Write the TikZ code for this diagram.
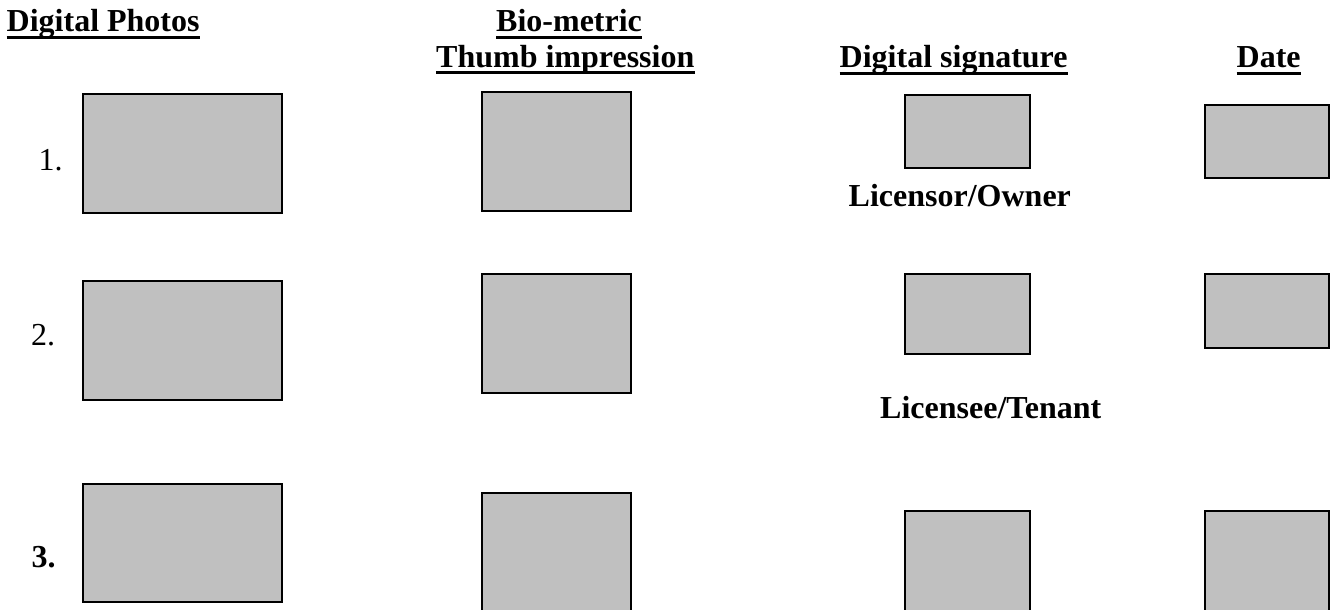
\documentclass[tikz,border=0pt]{standalone}
\usepackage{fontspec}
\setmainfont{Liberation Serif}
\usepackage{tikz}
\usetikzlibrary{positioning}

\definecolor{padgray}{RGB}{192,192,192}
\tikzset{
  pad/.style={draw=black,fill=padgray,line width=2pt,inner sep=0pt,anchor=north west},
  heading/.style={font=\fontsize{32}{36}\selectfont\bfseries,inner sep=0pt,anchor=base west},
  caption/.style={font=\fontsize{32}{36}\selectfont\bfseries,inner sep=0pt,anchor=base west},
  rownum/.style={font=\fontsize{32}{36}\selectfont,inner sep=0pt,anchor=base west},
  uline/.style={line width=3.5pt}
}

\begin{document}
\begin{tikzpicture}[x=1pt,y=-1pt]
\useasboundingbox (0,0) rectangle (1331,610);
\clip (0,0) rectangle (1331,610);

% column headings
\node[heading] (hphoto) at (6.5,32) {Digital Photos};
\node[heading] (hbio) at (496,32) {Bio-metric};
\node[heading] (hthumb) at (436,67) {Thumb impression};
\node[heading] (hsign) at (839.5,68) {Digital signature\hspace{0.25em}};
\node[heading] (hdate) at (1236.5,68) {Date};
\foreach \h in {hphoto,hbio,hthumb,hsign,hdate}
  \draw[uline] ([yshift=-5.5pt]\h.base west) -- ([yshift=-5.5pt]\h.base east);

% row numbers
\node[rownum] (n1) at (38.5,170) {1.};
\node[rownum] (n2) at (31,345) {2.};
\node[rownum,font=\fontsize{32}{36}\selectfont\bfseries] (n3) at (31.5,567) {3.};

% photo boxes
\node[pad,minimum width=199pt,minimum height=119pt] (photo1) at (82,93) {};
\node[pad,minimum width=199pt,minimum height=119pt] (photo2) at (82,280) {};
\node[pad,minimum width=199pt,minimum height=118pt] (photo3) at (82,483) {};

% thumb boxes
\node[pad,minimum width=149pt,minimum height=119pt] (thumb1) at (481,91) {};
\node[pad,minimum width=149pt,minimum height=119pt] (thumb2) at (481,273) {};
\node[pad,minimum width=149pt,minimum height=130pt] (thumb3) at (481,492) {};

% signature boxes
\node[pad,minimum width=125pt,minimum height=73pt] (sign1) at (904,94) {};
\node[pad,minimum width=125pt,minimum height=80pt] (sign2) at (904,273) {};
\node[pad,minimum width=125pt,minimum height=130pt] (sign3) at (904,510) {};

% date boxes
\node[pad,minimum width=124pt,minimum height=73pt] (date1) at (1204,104) {};
\node[pad,minimum width=124pt,minimum height=74pt] (date2) at (1204,273) {};
\node[pad,minimum width=124pt,minimum height=130pt] (date3) at (1204,510) {};

% who signs
\node[caption] (owner) at (848.5,206) {Licensor/Owner};
\node[caption] (tenant) at (880,418) {Licensee/Tenant};
\end{tikzpicture}
\end{document}
